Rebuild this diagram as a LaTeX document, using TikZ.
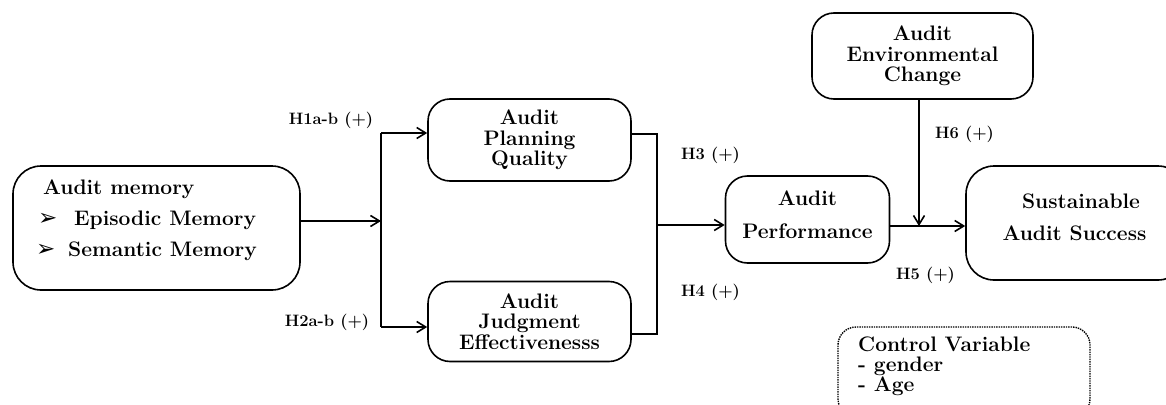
\documentclass[tikz,border=0pt]{standalone}
\usepackage{fontspec}
\newfontfamily\symfont{DejaVu Sans}
\usetikzlibrary{arrows.meta,calc}
\begin{document}
\begin{tikzpicture}[x=1pt,y=-1pt,
  box/.style={draw,line width=1.6pt,rounded corners=22pt,align=center,inner sep=0pt,
    font=\fontsize{21}{20.5}\selectfont\bfseries},
  txt/.style={inner sep=0pt,font=\fontsize{21}{20.5}\selectfont\bfseries},
  hlab/.style={inner sep=0pt,font=\fontsize{16.5}{17}\selectfont\bfseries},
  bul/.style={inner sep=0pt,anchor=base west,font=\symfont\fontsize{23}{23}\selectfont},
  conn/.style={line width=1.6pt},
  arr/.style={line width=1.6pt,-{Straight Barb[length=9pt,width=11pt]}}]
\useasboundingbox (0,0) rectangle (1166,404);
\clip (0,0) rectangle (1166,404);
% boxes
\node[box,minimum width=287pt,minimum height=124pt,rounded corners=28pt] (mem) at (156.5,228) {};
\node[txt,anchor=base west] (memt) at (43,194) {Audit memory};
\node[bul] (b1) at (38,225) {➢};
\node[txt,anchor=base west] (e1) at (74,225) {Episodic Memory};
\node[bul] (b2) at (36,256) {➢};
\node[txt,anchor=base west] (e2) at (68,256) {Semantic Memory};

\node[box,minimum width=203pt,minimum height=82pt] (apq) at (529.5,140) {Audit\\Planning\\Quality};
\node[box,minimum width=203pt,minimum height=80pt] (aje) at (529.5,321.5) {Audit\\Judgment\\Effectivenesss};
\node[box,minimum width=164pt,minimum height=87pt] (ap) at (807.5,219.5) {};
\node[txt] (apt1) at (807.5,198) {Audit};
\node[txt] (apt2) at (807.5,231) {Performance};
\node[box,minimum width=221pt,minimum height=86pt] (aec) at (922.5,56) {Audit\\Environmental\\Change};
\node[box,minimum width=220pt,minimum height=114pt,rounded corners=28pt] (sas) at (1076,223) {};
\node[txt] (sast1) at (1081,201) {Sustainable};
\node[txt] (sast2) at (1074.5,233) {Audit Success};
\node[draw,densely dotted,line width=1.4pt,rounded corners=18pt,minimum width=252pt,minimum height=90pt,inner sep=0pt] (ctl) at (964,372) {};
\node[txt,anchor=base west] (c1) at (858,351) {Control Variable};
\node[txt,anchor=base west] (c2) at (858,371) {- gender};
\node[txt,anchor=base west] (c3) at (858,391) {- Age};

% labels
\node[hlab] (h1) at (331,120) {H1a-b (+)};
\node[hlab] (h2) at (327,322) {H2a-b (+)};
\node[hlab] (h3) at (710.5,155) {H3 (+)};
\node[hlab] (h4) at (710.5,292) {H4 (+)};
\node[hlab] (h6) at (964.5,134) {H6 (+)};
\node[hlab] (h5) at (925.5,275) {H5 (+)};

% connectors
\coordinate (j1) at (381,221);
\coordinate (ja) at (381,133);
\coordinate (jb) at (381,327);
\coordinate (k1) at (657,134);
\coordinate (k2) at (657,334);
\coordinate (k3) at (657,225);
\coordinate (m) at (919,226);
\draw[arr] (j1 -| mem.east) -- (j1);
\draw[conn] (ja) -- (jb);
\draw[arr] (ja) -- (ja -| apq.west);
\draw[arr] (jb) -- (jb -| aje.west);
\draw[conn] (k1 -| apq.east) -- (k1) -- (k2) -- (k2 -| aje.east);
\draw[arr] (k3) -- (k3 -| ap.west);
\draw[arr] (m -| ap.east) -- (m -| sas.west);
\draw[arr] (m |- aec.south) -- (m);
\end{tikzpicture}
\end{document}
